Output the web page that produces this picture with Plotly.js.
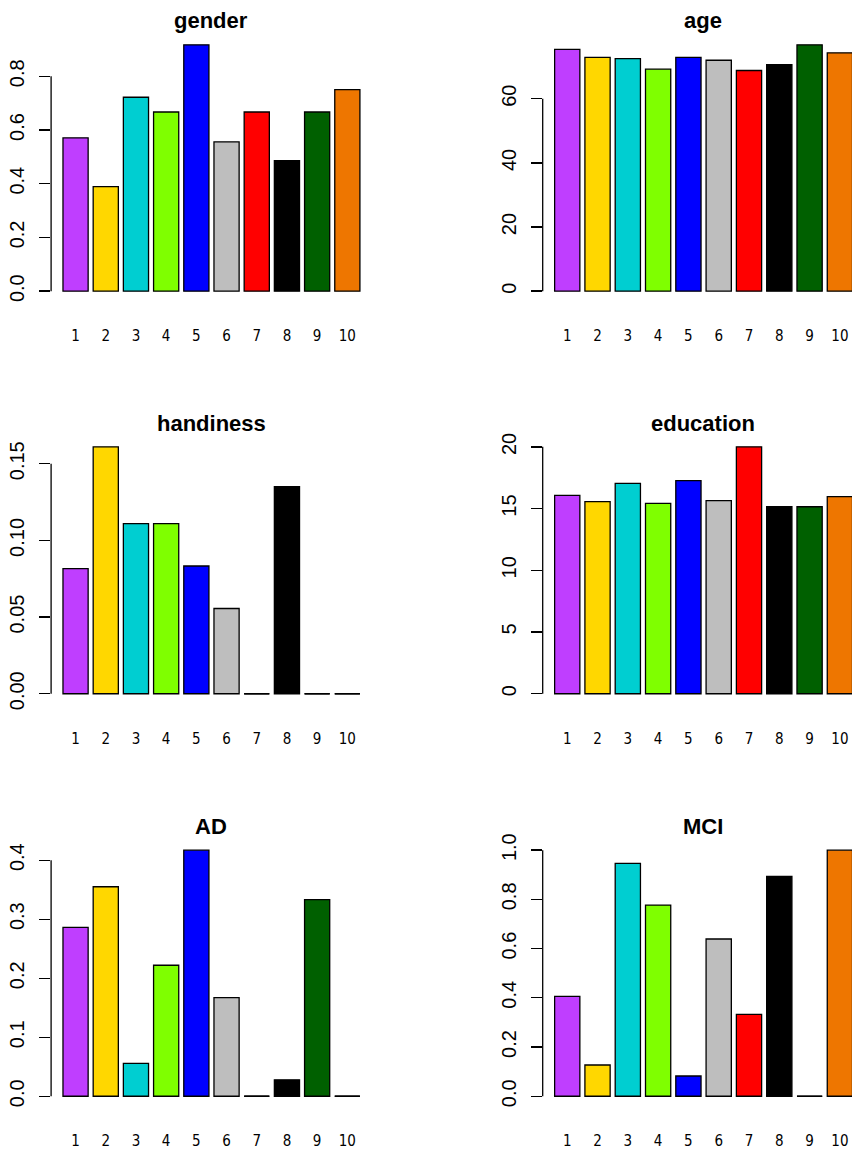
<!DOCTYPE html>
<html><head><meta charset="utf-8">
<script src="https://cdn.plot.ly/plotly-3.0.1.min.js"></script>
<style>html,body{margin:0;padding:0;background:#fff}</style>
</head><body>
<div id="chart" style="width:852px;height:1154px"></div>
<script>
const groups = [1,2,3,4,5,6,7,8,9,10];
const groupLabels = ['1','2','3','4','5','6','7','8','9','10'];
const barColors = ['#BF3EFF','#FFD700','#00CED1','#7FFF00','#0000FF','#BEBEBE','#FF0000','#000000','#006000','#EE7600'];

const panelTitles = ['gender','age','handiness','education','AD','MCI'];

const gender    = [0.571, 0.389, 0.722, 0.667, 0.917, 0.556, 0.667, 0.486, 0.667, 0.750];
const age       = [75.4, 72.9, 72.5, 69.2, 72.9, 72.0, 68.8, 70.6, 76.8, 74.3];
const handiness = [0.0816, 0.161, 0.111, 0.111, 0.0833, 0.0556, 0, 0.135, 0, 0];
const education = [16.07, 15.56, 17.05, 15.42, 17.26, 15.64, 20.0, 15.15, 15.15, 15.97];
const AD        = [0.286, 0.355, 0.0556, 0.222, 0.417, 0.167, 0, 0.0278, 0.333, 0];
const MCI       = [0.406, 0.127, 0.946, 0.777, 0.0824, 0.639, 0.333, 0.893, 0, 1.0];

const genderTicks = [0, 0.2, 0.4, 0.6, 0.8];
const genderTickLabels = ['0.0','0.2','0.4','0.6','0.8'];
const ageTicks = [0, 20, 40, 60];
const ageTickLabels = ['0','20','40','60'];
const handinessTicks = [0, 0.05, 0.10, 0.15];
const handinessTickLabels = ['0.00','0.05','0.10','0.15'];
const educationTicks = [0, 5, 10, 15, 20];
const educationTickLabels = ['0','5','10','15','20'];
const ADTicks = [0, 0.1, 0.2, 0.3, 0.4];
const ADTickLabels = ['0.0','0.1','0.2','0.3','0.4'];
const MCITicks = [0, 0.2, 0.4, 0.6, 0.8, 1.0];
const MCITickLabels = ['0.0','0.2','0.4','0.6','0.8','1.0'];

const panelValues = [gender, age, handiness, education, AD, MCI];
const panelTicks = [genderTicks, ageTicks, handinessTicks, educationTicks, ADTicks, MCITicks];
const panelTickLabels = [genderTickLabels, ageTickLabels, handinessTickLabels, educationTickLabels, ADTickLabels, MCITickLabels];

const W = 852, H = 1154;
const colLeft = [51.1, 542.7];
const colRight = [371.8, 852];
const rowTop = [35, 437, 840.3];
const rowBot = [301, 703.6, 1106.1];
const xRanges = [[0.19, 10.81], [0.19, 10.40]];
const barW = 1/1.2;
const lineW = 1.3;

const traces = [];
const layout = {
  width: W, height: H,
  margin: {l:0, r:0, t:0, b:0},
  paper_bgcolor: '#fff', plot_bgcolor: '#fff',
  showlegend: false,
  shapes: [], annotations: []
};

panelValues.forEach((vals, i) => {
  const col = i % 2, row = Math.floor(i / 2);
  const ax = i === 0 ? '' : String(i + 1);
  traces.push({
    type: 'bar', x: groups, y: vals, width: barW,
    xaxis: 'x' + ax, yaxis: 'y' + ax,
    marker: {color: barColors, line: {color: '#000', width: lineW}},
    hoverinfo: 'x+y'
  });
  const vmax = Math.max(...vals);
  layout['xaxis' + ax] = {
    domain: [colLeft[col] / W, colRight[col] / W],
    range: xRanges[col],
    showgrid: false, zeroline: false, showline: false,
    tickmode: 'array', tickvals: groups, ticktext: groupLabels,
    ticks: 'outside', ticklen: 21, tickcolor: 'rgba(0,0,0,0)',
    tickfont: {family: 'Liberation Sans Narrow, DejaVu Sans Condensed, Liberation Sans, sans-serif', size: 15, color: '#000'},
    anchor: 'y' + ax, fixedrange: true
  };
  layout['yaxis' + ax] = {
    domain: [1 - rowBot[row] / H, 1 - rowTop[row] / H],
    range: [-0.04 * vmax, 1.04 * vmax],
    showgrid: false, zeroline: false, showline: false,
    tickmode: 'array', tickvals: panelTicks[i], ticktext: panelTickLabels[i],
    ticks: 'outside', ticklen: 11, tickwidth: 1.3, tickcolor: '#000',
    tickangle: -90, ticklabelstandoff: 7,
    tickfont: {family: 'Liberation Sans, Arial, sans-serif', size: 20, color: '#000'},
    anchor: 'x' + ax, fixedrange: true
  };
  const tk = panelTicks[i];
  layout.shapes.push({
    type: 'line', xref: 'x' + ax + ' domain', yref: 'y' + ax,
    x0: 0, x1: 0, y0: tk[0], y1: tk[tk.length - 1],
    line: {color: '#000', width: lineW}
  });
  vals.forEach((v, k) => {
    if (v === 0) {
      layout.shapes.push({
        type: 'line', xref: 'x' + ax, yref: 'y' + ax,
        x0: groups[k] - barW / 2, x1: groups[k] + barW / 2, y0: 0, y1: 0,
        line: {color: '#000', width: lineW}
      });
    }
  });
  layout.annotations.push({
    text: '<b>' + panelTitles[i] + '</b>',
    xref: 'paper', yref: 'paper',
    x: ((colLeft[col] + (col === 0 ? colRight[col] : colLeft[col] + 320.7)) / 2) / W,
    y: 1 - (rowTop[row] - 14) / H,
    xanchor: 'center', yanchor: 'middle', showarrow: false,
    font: {family: 'Liberation Sans, Arial, sans-serif', size: 22, color: '#000'}
  });
});

Plotly.newPlot('chart', traces, layout, {staticPlot: true, displayModeBar: false});
</script>
</body></html>
